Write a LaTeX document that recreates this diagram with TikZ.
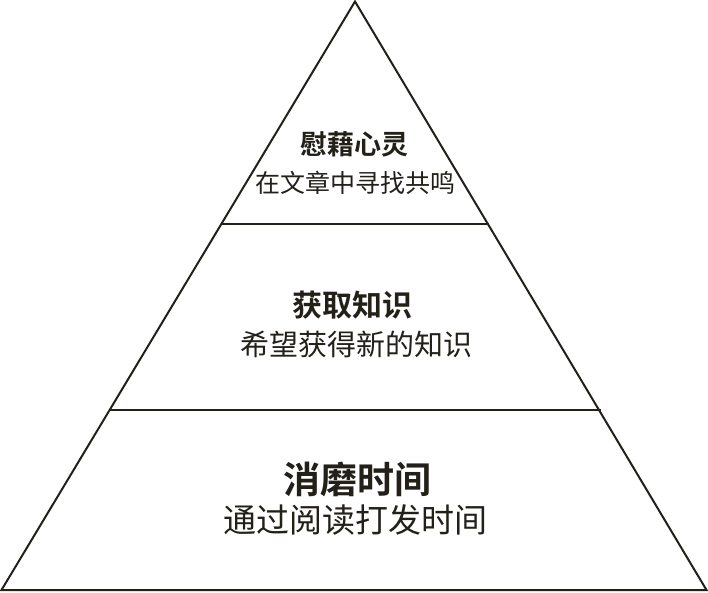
\documentclass[tikz,border=0pt]{standalone}
\usepackage{fontspec}
\newfontfamily\cjk{Noto Sans CJK SC}
\newfontfamily\cjkb{Noto Sans CJK SC Bold}
\definecolor{ink}{RGB}{34,32,24}
\begin{document}
\begin{tikzpicture}[x=1pt,y=-1pt,
  edge/.style={draw=ink,line width=2pt,line join=miter},
  ttl/.style={text=ink,inner sep=0pt,anchor=center},
]
\useasboundingbox (0,0) rectangle (708,592);
\coordinate (apex) at (355,1.5);
\coordinate (bl) at (1.5,590);
\coordinate (br) at (706.5,590);
\coordinate (l1) at (221,224);
\coordinate (r1) at (489,224);
\coordinate (l2) at (109,410);
\coordinate (r2) at (601,410);
\draw[edge] (apex) -- (br) -- (bl) -- cycle;
\draw[edge] (l1) -- (r1);
\draw[edge] (l2) -- (r2);
\node[ttl,font=\cjkb\fontsize{27}{30}\selectfont] (t1) at (354,144) {慰藉心灵};
\node[ttl,font=\cjk\fontsize{25}{28}\selectfont] (s1) at (355,183) {在文章中寻找共鸣};
\node[ttl,font=\cjkb\fontsize{30}{34}\selectfont] (t2) at (352,305) {获取知识};
\node[ttl,font=\cjk\fontsize{29}{32}\selectfont] (s2) at (356,344) {希望获得新的知识};
\node[ttl,font=\cjkb\fontsize{37}{40}\selectfont] (t3) at (357,479) {消磨时间};
\node[ttl,font=\cjk\fontsize{33}{36}\selectfont] (s3) at (355,520) {通过阅读打发时间};
\end{tikzpicture}
\end{document}
